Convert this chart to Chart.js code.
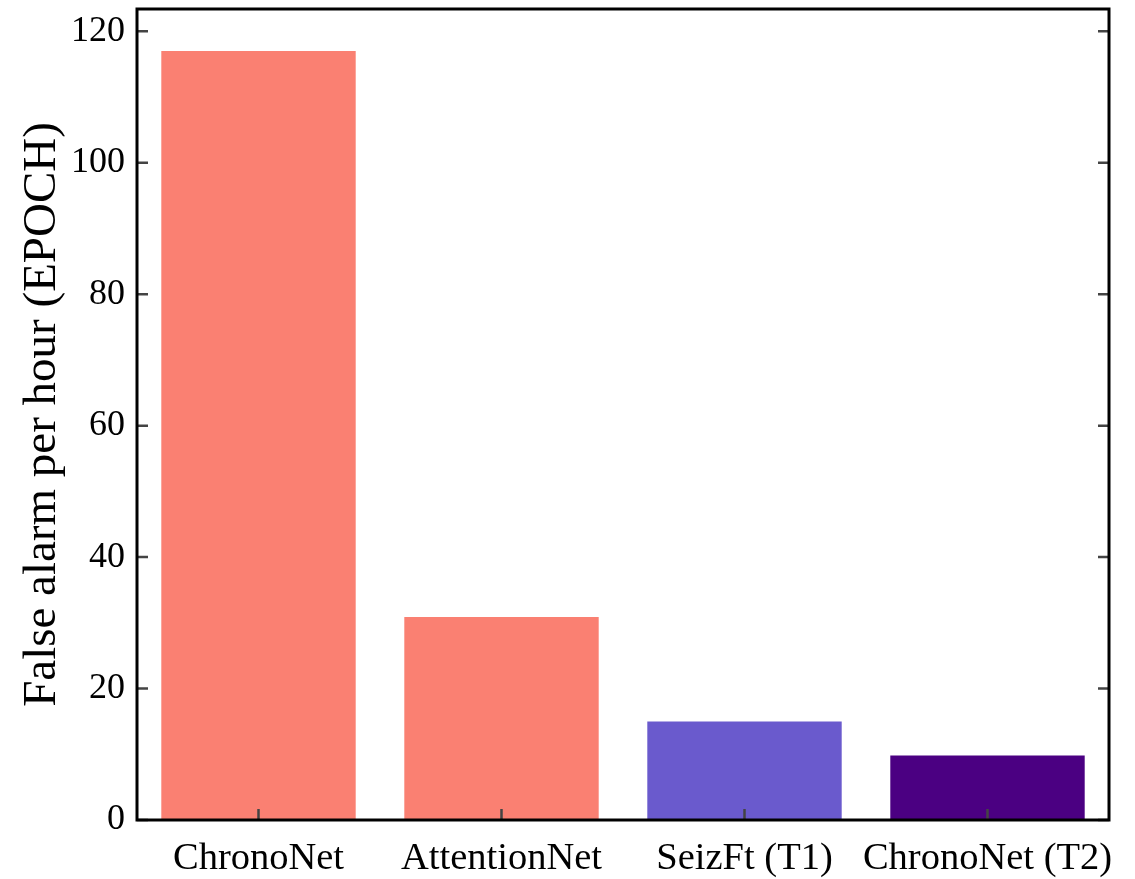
<!DOCTYPE html>
<html>
<head>
<meta charset="utf-8">
<script src="https://cdn.jsdelivr.net/npm/chart.js@4"></script>
<style>
    html, body { margin: 0; padding: 0; background: #fff; }
    #wrap { width: 1135px; height: 879px; }
</style>
</head>
<body>
<div id="wrap"><canvas id="falseAlarmChart" width="1135" height="879"></canvas></div>
<script>
const models = ['ChronoNet', 'AttentionNet', 'SeizFt (T1)', 'ChronoNet (T2)'];
const falseAlarms = [117.0, 30.9, 15.0, 9.8];
const barColors = ['#FA8072', '#FA8072', '#6A5ACD', '#4B0082'];
const yTicks = [0, 20, 40, 60, 80, 100, 120];

const serif = "'Liberation Serif', 'Times New Roman', serif";

// frame + inward tick marks (matplotlib look)
const framePlugin = {
    id: 'frame',
    afterDraw(chart) {
        const ctx = chart.ctx;
        const area = chart.chartArea;
        const y = chart.scales.y;
        const x = chart.scales.x;
        ctx.save();
        ctx.strokeStyle = '#444';
        ctx.lineWidth = 2.5;
        y.ticks.forEach(t => {
            const py = y.getPixelForValue(t.value);
            ctx.beginPath();
            ctx.moveTo(area.left, py);
            ctx.lineTo(area.left + 11, py);
            ctx.moveTo(area.right, py);
            ctx.lineTo(area.right - 11, py);
            ctx.stroke();
        });
        x.ticks.forEach((t, i) => {
            const px = x.getPixelForTick(i);
            ctx.beginPath();
            ctx.moveTo(px, area.bottom);
            ctx.lineTo(px, area.bottom - 11);
            ctx.stroke();
        });
        ctx.strokeStyle = '#000';
        ctx.lineWidth = 3;
        ctx.strokeRect(area.left, area.top, area.right - area.left, area.bottom - area.top);
        ctx.restore();
    }
};

new Chart(document.getElementById('falseAlarmChart').getContext('2d'), {
    type: 'bar',
    data: {
        labels: models,
        datasets: [{
            data: falseAlarms,
            backgroundColor: barColors,
            borderWidth: 0,
            barPercentage: 0.8,
            categoryPercentage: 1.0
        }]
    },
    options: {
        responsive: false,
        animation: false,
        layout: { padding: { top: 9, right: 26, left: 0, bottom: 0 } },
        plugins: {
            legend: { display: false },
            tooltip: { enabled: false }
        },
        scales: {
            x: {
                grid: { display: false, drawTicks: false },
                border: { display: false },
                ticks: {
                    color: '#000',
                    padding: 16,
                    maxRotation: 0,
                    autoSkip: false,
                    font: { family: serif, size: 38.5 }
                },
                afterFit(scale) {
                    scale.height = 59;
                    scale.paddingLeft = 0;
                    scale.paddingRight = 0;
                }
            },
            y: {
                min: 0,
                max: 123.4,
                grid: { display: false, drawTicks: false },
                border: { display: false },
                afterBuildTicks(scale) {
                    scale.ticks = yTicks.map(v => ({ value: v }));
                },
                ticks: {
                    color: '#000',
                    padding: 12,
                    font: { family: serif, size: 36 }
                },
                title: {
                    display: true,
                    text: 'False alarm per hour (EPOCH)',
                    color: '#000',
                    padding: { top: 14, bottom: 0 },
                    font: { family: serif, size: 47, weight: 'normal' }
                },
                afterFit(scale) {
                    scale.width = 137;
                    scale.paddingTop = 0;
                    scale.paddingBottom = 0;
                }
            }
        }
    },
    plugins: [framePlugin]
});
</script>
</body>
</html>
